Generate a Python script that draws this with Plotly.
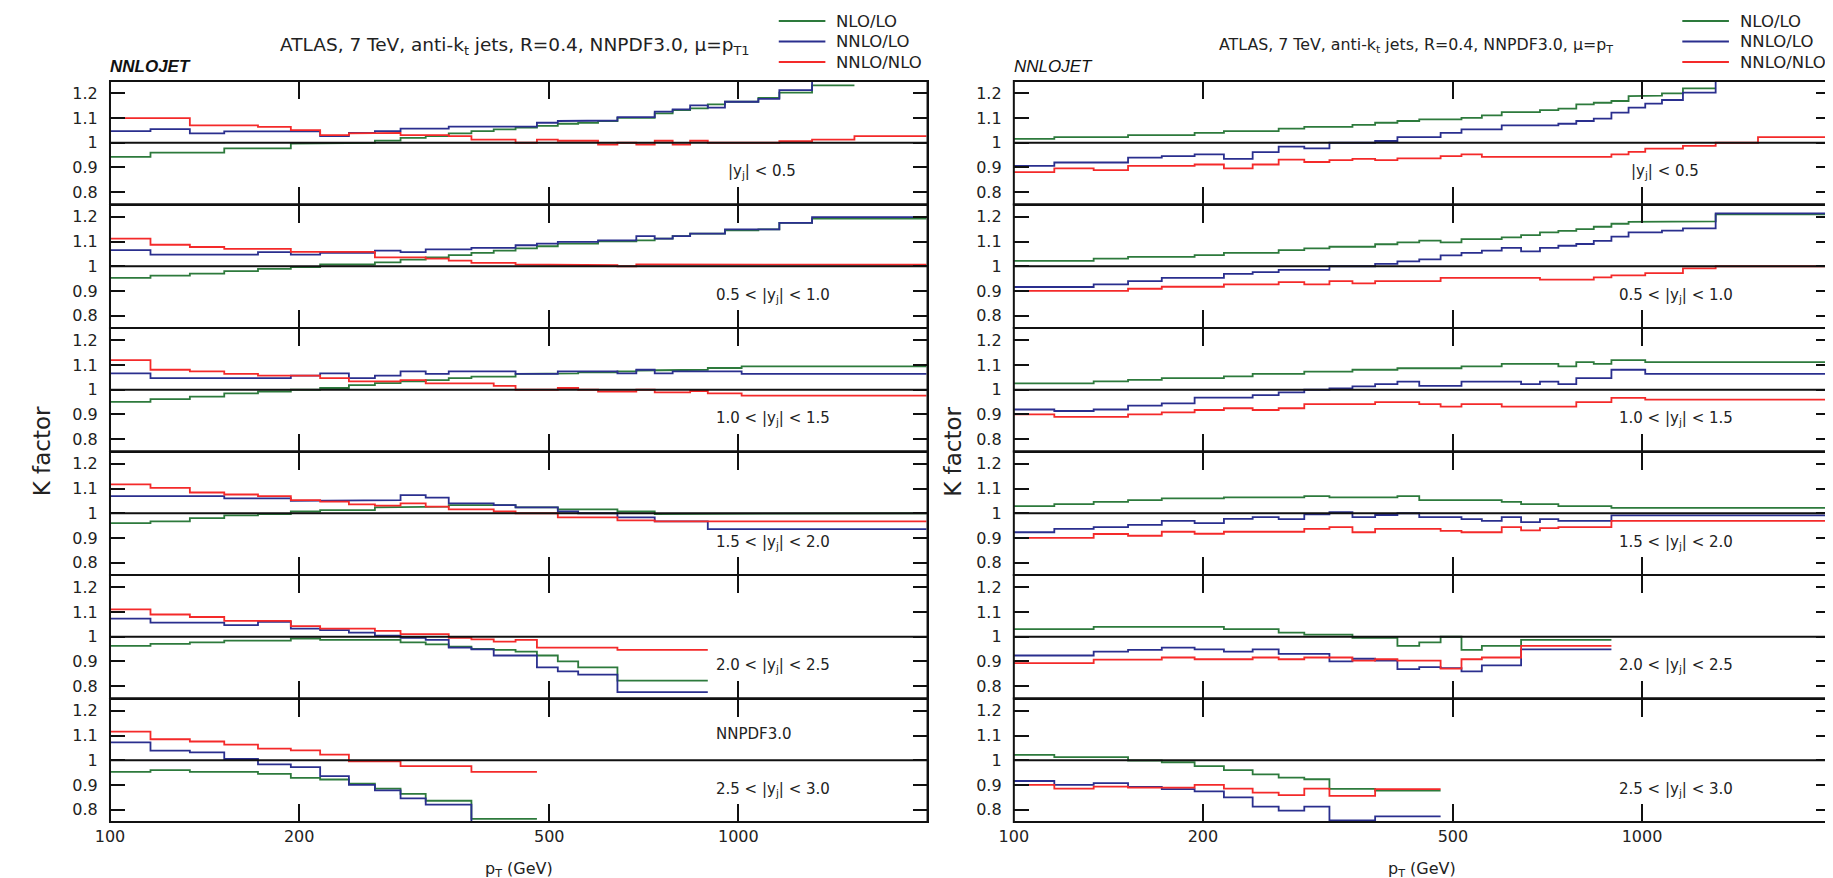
import math
import plotly.graph_objects as go

# ---------------- data ----------------
PT_EDGES = [100, 116, 134, 152, 172, 194, 216, 240, 264, 290, 318, 346, 376, 408, 442, 478,
            516, 556, 598, 642, 688, 736, 786, 838, 894, 952, 1012, 1076, 1162, 1310, 1530, 1992]

SERIES_NAMES = ["NLO/LO", "NNLO/LO", "NNLO/NLO"]
SERIES_COLORS = ["#2d7a3c", "#2a2f8e", "#f42a2a"]
YBIN_LABELS = ["|y<sub>j</sub>| < 0.5", "0.5 < |y<sub>j</sub>| < 1.0", "1.0 < |y<sub>j</sub>| < 1.5",
               "1.5 < |y<sub>j</sub>| < 2.0", "2.0 < |y<sub>j</sub>| < 2.5", "2.5 < |y<sub>j</sub>| < 3.0"]
X_TICKS = [100, 200, 500, 1000]
Y_TICKS = [0.8, 0.9, 1.0, 1.1, 1.2]
Y_TICK_TEXT = ["0.8", "0.9", "1", "1.1", "1.2"]

# left plot: mu = pT1
T1_Y1_NLOLO = [0.943, 0.96, 0.96, 0.977, 0.977, 0.997, 0.997, 1.0, 1.009, 1.02, 1.027, 1.038, 1.047, 1.054, 1.061,
               1.068, 1.077, 1.081, 1.088, 1.101, 1.101, 1.119, 1.132, 1.139, 1.155, 1.166, 1.166, 1.182, 1.203, 1.232]
T1_Y1_NNLOLO = [1.047, 1.055, 1.038, 1.046, 1.046, 1.046, 1.027, 1.04, 1.047, 1.057, 1.057, 1.065, 1.065, 1.065, 1.065,
                1.081, 1.088, 1.088, 1.09, 1.104, 1.104, 1.126, 1.135, 1.151, 1.142, 1.166, 1.166, 1.178, 1.213, 1.27]
T1_Y1_NNLONLO = [1.1, 1.1, 1.07, 1.07, 1.064, 1.051, 1.031, 1.038, 1.04, 1.031, 1.031, 1.027, 1.013, 1.013, 1.0,
                 1.013, 1.008, 1.008, 0.993, 1.0, 0.993, 1.008, 0.993, 1.008, 1.0, 1.0, 1.0, 1.0, 1.006, 1.013, 1.027]

T1_Y2_NLOLO = [0.953, 0.962, 0.97, 0.98, 0.989, 0.997, 1.007, 1.007, 1.016, 1.027, 1.036, 1.045, 1.054, 1.063, 1.072,
               1.081, 1.092, 1.092, 1.101, 1.101, 1.105, 1.112, 1.122, 1.132, 1.132, 1.145, 1.145, 1.149, 1.176, 1.193, 1.193]
T1_Y2_NNLOLO = [1.065, 1.047, 1.047, 1.047, 1.057, 1.047, 1.054, 1.054, 1.063, 1.057, 1.068, 1.068, 1.074, 1.074, 1.085,
                1.092, 1.099, 1.099, 1.105, 1.105, 1.122, 1.112, 1.122, 1.132, 1.132, 1.149, 1.149, 1.149, 1.176, 1.199, 1.199]
T1_Y2_NNLONLO = [1.112, 1.087, 1.078, 1.07, 1.07, 1.058, 1.058, 1.058, 1.036, 1.036, 1.031, 1.023, 1.014, 1.014, 1.007,
                 1.007, 1.007, 1.004, 1.004, 1.0, 1.007, 1.004, 1.004, 1.004, 1.004, 1.007, 1.004, 1.004, 1.004, 1.006, 1.006]

T1_Y3_NLOLO = [0.951, 0.962, 0.972, 0.985, 0.993, 1.0, 1.007, 1.019, 1.027, 1.034, 1.039, 1.047, 1.053, 1.053, 1.064,
               1.064, 1.066, 1.07, 1.07, 1.074, 1.078, 1.081, 1.081, 1.081, 1.088, 1.088, 1.095, 1.095, 1.095, 1.095, 1.095]
T1_Y3_NNLOLO = [1.066, 1.047, 1.047, 1.047, 1.047, 1.057, 1.066, 1.047, 1.057, 1.074, 1.064, 1.074, 1.074, 1.074, 1.064,
                1.064, 1.074, 1.074, 1.074, 1.066, 1.081, 1.066, 1.074, 1.074, 1.074, 1.074, 1.064, 1.064, 1.064, 1.064, 1.064]
T1_Y3_NNLONLO = [1.12, 1.081, 1.074, 1.064, 1.057, 1.057, 1.047, 1.034, 1.034, 1.039, 1.026, 1.026, 1.026, 1.016, 1.0,
                 1.0, 1.007, 1.0, 0.993, 0.993, 1.0, 0.989, 0.989, 0.995, 0.985, 0.985, 0.976, 0.976, 0.976, 0.976, 0.976]

T1_Y4_NLOLO = [0.96, 0.967, 0.98, 0.991, 0.997, 1.007, 1.013, 1.013, 1.024, 1.024, 1.027, 1.033, 1.033, 1.033, 1.024,
               1.024, 1.016, 1.016, 1.016, 1.007, 1.007, 0.997, 0.997, 0.997, 1.0, 1.0, 1.0, 1.0, 1.0, 1.0, 1.0]
T1_Y4_NNLOLO = [1.069, 1.069, 1.069, 1.06, 1.06, 1.05, 1.053, 1.053, 1.053, 1.073, 1.063, 1.04, 1.04, 1.033, 1.024,
                1.024, 1.007, 1.0, 1.0, 0.983, 0.983, 0.967, 0.967, 0.967, 0.936, 0.936, 0.936, 0.936, 0.936, 0.936, 0.936]
T1_Y4_NNLONLO = [1.117, 1.103, 1.084, 1.076, 1.069, 1.053, 1.047, 1.036, 1.031, 1.04, 1.027, 1.016, 1.016, 1.007, 1.0,
                 1.0, 0.983, 0.983, 0.983, 0.971, 0.971, 0.967, 0.967, 0.967, 0.967, 0.967, 0.967, 0.967, 0.967, 0.967, 0.967]

T1_Y5_NLOLO = [0.963, 0.971, 0.977, 0.984, 0.984, 0.993, 0.987, 0.987, 0.987, 0.977, 0.969, 0.96, 0.951, 0.947, 0.94,
               0.924, 0.9, 0.876, 0.876, 0.822, 0.822, 0.822, 0.822, 0.822]
T1_Y5_NNLOLO = [1.073, 1.057, 1.057, 1.047, 1.06, 1.033, 1.027, 1.017, 1.004, 0.996, 0.987, 0.956, 0.949, 0.924, 0.924,
                0.876, 0.86, 0.847, 0.847, 0.776, 0.776, 0.776, 0.776, 0.776]
T1_Y5_NNLONLO = [1.111, 1.09, 1.08, 1.064, 1.064, 1.043, 1.033, 1.033, 1.024, 1.011, 1.011, 0.996, 0.989, 0.98, 0.987,
                 0.956, 0.956, 0.956, 0.956, 0.947, 0.947, 0.947, 0.947, 0.947]

T1_Y6_NLOLO = [0.953, 0.96, 0.953, 0.953, 0.945, 0.929, 0.922, 0.905, 0.885, 0.864, 0.836, 0.836, 0.763, 0.763, 0.763]
T1_Y6_NNLOLO = [1.072, 1.039, 1.032, 1.005, 0.983, 0.972, 0.936, 0.9, 0.878, 0.846, 0.82, 0.82, 0.74, 0.74, 0.74]
T1_Y6_NNLONLO = [1.116, 1.085, 1.076, 1.063, 1.047, 1.04, 1.023, 0.996, 0.996, 0.976, 0.976, 0.976, 0.953, 0.953, 0.953]

# right plot: mu = pT
T_Y1_NLOLO = [1.016, 1.023, 1.023, 1.031, 1.031, 1.04, 1.047, 1.047, 1.057, 1.064, 1.064, 1.072, 1.081, 1.088, 1.095,
              1.095, 1.101, 1.111, 1.124, 1.124, 1.132, 1.138, 1.155, 1.162, 1.169, 1.189, 1.191, 1.2, 1.22]
T_Y1_NNLOLO = [0.906, 0.92, 0.92, 0.94, 0.946, 0.953, 0.935, 0.962, 0.984, 0.977, 1.0, 1.0, 1.007, 1.023, 1.023,
               1.04, 1.054, 1.054, 1.07, 1.07, 1.07, 1.077, 1.088, 1.098, 1.122, 1.142, 1.158, 1.173, 1.203, 1.27]
T_Y1_NNLONLO = [0.881, 0.896, 0.889, 0.906, 0.906, 0.912, 0.896, 0.912, 0.932, 0.922, 0.93, 0.935, 0.93, 0.937, 0.937,
                0.946, 0.953, 0.943, 0.943, 0.943, 0.943, 0.943, 0.943, 0.943, 0.953, 0.963, 0.976, 0.976, 0.987, 1.0, 1.023]

T_Y2_NLOLO = [1.022, 1.022, 1.031, 1.038, 1.038, 1.045, 1.054, 1.054, 1.065, 1.072, 1.079, 1.079, 1.089, 1.097, 1.104,
              1.097, 1.11, 1.11, 1.117, 1.126, 1.137, 1.143, 1.15, 1.16, 1.172, 1.18, 1.182, 1.182, 1.182, 1.21, 1.21]
T_Y2_NNLOLO = [0.916, 0.916, 0.927, 0.94, 0.953, 0.953, 0.969, 0.976, 0.985, 0.985, 1.0, 1.0, 1.01, 1.02, 1.028,
               1.044, 1.054, 1.063, 1.074, 1.06, 1.074, 1.083, 1.09, 1.103, 1.12, 1.137, 1.137, 1.144, 1.153, 1.214, 1.214]
T_Y2_NNLONLO = [0.9, 0.9, 0.9, 0.909, 0.917, 0.917, 0.927, 0.927, 0.936, 0.927, 0.94, 0.931, 0.94, 0.94, 0.94,
                0.953, 0.953, 0.953, 0.953, 0.953, 0.946, 0.946, 0.946, 0.955, 0.963, 0.963, 0.972, 0.972, 0.991, 1.0, 1.0]

T_Y3_NLOLO = [1.026, 1.026, 1.034, 1.04, 1.047, 1.047, 1.054, 1.064, 1.064, 1.073, 1.073, 1.081, 1.081, 1.087, 1.087,
              1.087, 1.095, 1.095, 1.105, 1.105, 1.105, 1.095, 1.112, 1.105, 1.12, 1.12, 1.112, 1.112, 1.112, 1.112, 1.112]
T_Y3_NNLOLO = [0.92, 0.914, 0.92, 0.936, 0.945, 0.968, 0.968, 0.978, 0.989, 1.0, 1.005, 1.014, 1.023, 1.033, 1.016,
               1.016, 1.033, 1.033, 1.033, 1.023, 1.033, 1.023, 1.047, 1.047, 1.081, 1.081, 1.064, 1.064, 1.064, 1.064, 1.064]
T_Y3_NNLONLO = [0.9, 0.89, 0.89, 0.9, 0.908, 0.918, 0.925, 0.918, 0.925, 0.942, 0.942, 0.942, 0.95, 0.95, 0.942,
                0.932, 0.942, 0.942, 0.932, 0.932, 0.932, 0.932, 0.95, 0.95, 0.967, 0.967, 0.96, 0.96, 0.96, 0.96, 0.96]

T_Y4_NLOLO = [1.029, 1.037, 1.046, 1.053, 1.06, 1.06, 1.064, 1.064, 1.064, 1.069, 1.064, 1.064, 1.064, 1.069, 1.053,
              1.053, 1.053, 1.053, 1.046, 1.037, 1.037, 1.029, 1.029, 1.029, 1.022, 1.022, 1.022, 1.022, 1.022, 1.022, 1.022]
T_Y4_NNLOLO = [0.923, 0.937, 0.944, 0.953, 0.969, 0.96, 0.977, 0.984, 0.976, 0.996, 1.004, 0.984, 0.993, 1.0, 0.984,
               0.984, 0.976, 0.969, 0.984, 0.964, 0.976, 0.969, 0.969, 0.969, 0.991, 0.991, 0.991, 0.991, 0.991, 0.991, 0.991]
T_Y4_NNLONLO = [0.9, 0.9, 0.916, 0.909, 0.925, 0.917, 0.925, 0.925, 0.925, 0.937, 0.944, 0.923, 0.937, 0.937, 0.937,
                0.929, 0.923, 0.923, 0.944, 0.931, 0.94, 0.944, 0.944, 0.944, 0.969, 0.969, 0.969, 0.969, 0.969, 0.969, 0.969]

T_Y5_NLOLO = [1.031, 1.031, 1.04, 1.04, 1.04, 1.04, 1.031, 1.031, 1.017, 1.009, 1.009, 0.996, 0.996, 0.963, 0.977,
              1.0, 0.947, 0.963, 0.963, 0.987, 0.987, 0.987, 0.987, 0.987]
T_Y5_NNLOLO = [0.924, 0.924, 0.94, 0.947, 0.956, 0.949, 0.94, 0.949, 0.931, 0.931, 0.9, 0.911, 0.903, 0.869, 0.877,
               0.873, 0.86, 0.884, 0.884, 0.949, 0.949, 0.949, 0.949, 0.949]
T_Y5_NNLONLO = [0.893, 0.893, 0.907, 0.907, 0.916, 0.909, 0.909, 0.916, 0.909, 0.916, 0.916, 0.903, 0.909, 0.903, 0.903,
                0.871, 0.909, 0.916, 0.916, 0.963, 0.963, 0.963, 0.963, 0.963]

T_Y6_NLOLO = [1.022, 1.013, 1.013, 0.999, 0.992, 0.976, 0.96, 0.943, 0.93, 0.923, 0.884, 0.884, 0.877, 0.877, 0.877]
T_Y6_NNLOLO = [0.916, 0.9, 0.907, 0.892, 0.883, 0.874, 0.85, 0.812, 0.796, 0.812, 0.756, 0.756, 0.773, 0.773, 0.773]
T_Y6_NNLONLO = [0.9, 0.885, 0.893, 0.889, 0.889, 0.9, 0.885, 0.869, 0.859, 0.885, 0.856, 0.856, 0.883, 0.883, 0.883]

LEFT_PANELS = [(T1_Y1_NLOLO, T1_Y1_NNLOLO, T1_Y1_NNLONLO), (T1_Y2_NLOLO, T1_Y2_NNLOLO, T1_Y2_NNLONLO),
               (T1_Y3_NLOLO, T1_Y3_NNLOLO, T1_Y3_NNLONLO), (T1_Y4_NLOLO, T1_Y4_NNLOLO, T1_Y4_NNLONLO),
               (T1_Y5_NLOLO, T1_Y5_NNLOLO, T1_Y5_NNLONLO), (T1_Y6_NLOLO, T1_Y6_NNLOLO, T1_Y6_NNLONLO)]
RIGHT_PANELS = [(T_Y1_NLOLO, T_Y1_NNLOLO, T_Y1_NNLONLO), (T_Y2_NLOLO, T_Y2_NNLOLO, T_Y2_NNLONLO),
                (T_Y3_NLOLO, T_Y3_NNLOLO, T_Y3_NNLONLO), (T_Y4_NLOLO, T_Y4_NNLOLO, T_Y4_NNLONLO),
                (T_Y5_NLOLO, T_Y5_NNLOLO, T_Y5_NNLONLO), (T_Y6_NLOLO, T_Y6_NNLOLO, T_Y6_NNLONLO)]
TITLES = ["ATLAS, 7 TeV, anti-k<sub>t</sub> jets, R=0.4, NNPDF3.0, μ=p<sub>T1</sub>",
          "ATLAS, 7 TeV, anti-k<sub>t</sub> jets, R=0.4, NNPDF3.0, μ=p<sub>T</sub>"]

# ---------------- layout geometry / style ----------------
W, H = 1833, 878
FONT = "DejaVu Sans, Verdana, sans-serif"
FONT_TAG = "Liberation Sans, Arial, sans-serif"
TXT = "#222"
COL_X = [(87.7, 912.0), (999.0, 1823.0)]
PANEL_TOP, PANEL_H = 73.0, 123.5
TITLE_SIZES = [18.5, 15.8]
TITLE_CX = [496, 1404]
LEGEND_LINE_OFF = (-150, -103)   # relative to the right frame edge
LEGEND_TEXT_OFF = -94


def px_x(x):
    return x / W


def px_y(y):
    return 1 - y / H


def steps(edges, vals):
    xs, ys = [], []
    for i, v in enumerate(vals):
        if v is None:
            xs.append(None)
            ys.append(None)
            continue
        xs += [edges[i], edges[i + 1]]
        ys += [v, v]
    return xs, ys


fig = go.Figure()
shapes, annotations = [], []
layout = {}

for c, panels in enumerate([LEFT_PANELS, RIGHT_PANELS]):
    for r, series in enumerate(panels):
        n = r * 2 + c + 1
        sfx = "" if n == 1 else str(n)
        xa, ya = "x" + sfx, "y" + sfx
        top = PANEL_TOP + r * PANEL_H
        bot = top + PANEL_H
        layout["xaxis" + sfx] = dict(
            type="log", range=[2, math.log10(2000)], domain=[px_x(COL_X[c][0]), px_x(COL_X[c][1])],
            anchor=ya, tickvals=X_TICKS, ticktext=[str(v) for v in X_TICKS],
            showticklabels=(r == 5), ticks="inside", ticklen=18, tickwidth=1.5, tickcolor="#111",
            showline=True, linecolor="#111", linewidth=1, mirror="ticks", showgrid=False, zeroline=False,
            tickfont=dict(family=FONT, size=16, color=TXT), ticklabelstandoff=0,
        )
        layout["yaxis" + sfx] = dict(
            range=[0.75, 1.25], domain=[px_y(bot), px_y(top)], anchor=xa,
            tickvals=Y_TICKS, ticktext=Y_TICK_TEXT, ticks="inside", ticklen=15, tickwidth=1.5, tickcolor="#111",
            showline=True, linecolor="#111", linewidth=1, mirror="ticks", showgrid=False, zeroline=False,
            tickfont=dict(family=FONT, size=16, color=TXT), ticklabelstandoff=8,
        )
        for k, vals in enumerate(series):
            xs, ys = steps(PT_EDGES, vals)
            fig.add_trace(go.Scatter(
                x=xs, y=ys, mode="lines", name=SERIES_NAMES[k],
                line=dict(color=SERIES_COLORS[k], width=1.8),
                xaxis=xa, yaxis=ya, showlegend=False, hoverinfo="skip",
            ))
        shapes.append(dict(type="rect", xref=xa + " domain", yref=ya + " domain", x0=0, x1=1, y0=0, y1=1,
                           line=dict(color="#111", width=2), layer="above"))
        shapes.append(dict(type="line", xref=xa + " domain", yref=ya, x0=0, x1=1, y0=1, y1=1,
                           line=dict(color="#111", width=2), layer="above"))
        lab_x = 955 if r == 0 else 914
        annotations.append(dict(text=YBIN_LABELS[r], xref=xa, yref=ya, x=math.log10(lab_x), y=0.882,
                                xanchor="left", yanchor="middle", showarrow=False,
                                font=dict(family=FONT, size=15, color=TXT)))
        if c == 0 and r == 5:
            annotations.append(dict(text="NNPDF3.0", xref=xa, yref=ya, x=math.log10(914), y=1.105,
                                    xanchor="left", yanchor="middle", showarrow=False,
                                    font=dict(family=FONT, size=15, color=TXT)))

    x0, x1 = COL_X[c]
    cx = (x0 + x1) / 2
    annotations.append(dict(text=TITLES[c], xref="paper", yref="paper", x=px_x(TITLE_CX[c]), y=px_y(38),
                            xanchor="center", yanchor="middle", showarrow=False,
                            font=dict(family=FONT, size=TITLE_SIZES[c], color=TXT)))
    annotations.append(dict(text="<b><i>NNLOJET</i></b>" if c == 0 else "<i>NNLOJET</i>",
                            xref="paper", yref="paper", x=px_x(x0 - 2), y=px_y(59),
                            xanchor="left", yanchor="middle", showarrow=False,
                            font=dict(family=FONT_TAG, size=17, color="#111")))
    annotations.append(dict(text="K factor", xref="paper", yref="paper",
                            x=px_x(20 if c == 0 else 938), y=px_y(PANEL_TOP + 3 * PANEL_H),
                            xanchor="center", yanchor="middle", textangle=-90, showarrow=False,
                            font=dict(family=FONT, size=23, color=TXT)))
    annotations.append(dict(text="p<sub>T</sub> (GeV)", xref="paper", yref="paper",
                            x=px_x(cx), y=px_y(861), xanchor="center", yanchor="middle", showarrow=False,
                            font=dict(family=FONT, size=16, color=TXT)))
    for k, name in enumerate(SERIES_NAMES):
        yy = px_y(13 + 20.5 * k)
        shapes.append(dict(type="line", xref="paper", yref="paper",
                           x0=px_x(x1 + LEGEND_LINE_OFF[0]), x1=px_x(x1 + LEGEND_LINE_OFF[1]), y0=yy, y1=yy,
                           line=dict(color=SERIES_COLORS[k], width=2)))
        annotations.append(dict(text=name, xref="paper", yref="paper", x=px_x(x1 + LEGEND_TEXT_OFF), y=yy,
                                xanchor="left", yanchor="middle", showarrow=False,
                                font=dict(family=FONT, size=16.5, color=TXT)))

fig.update_layout(
    width=W, height=H, margin=dict(l=0, r=0, t=0, b=0),
    paper_bgcolor="white", plot_bgcolor="white", showlegend=False,
    shapes=shapes, annotations=annotations,
    **layout,
)

fig.write_html("out.html")
